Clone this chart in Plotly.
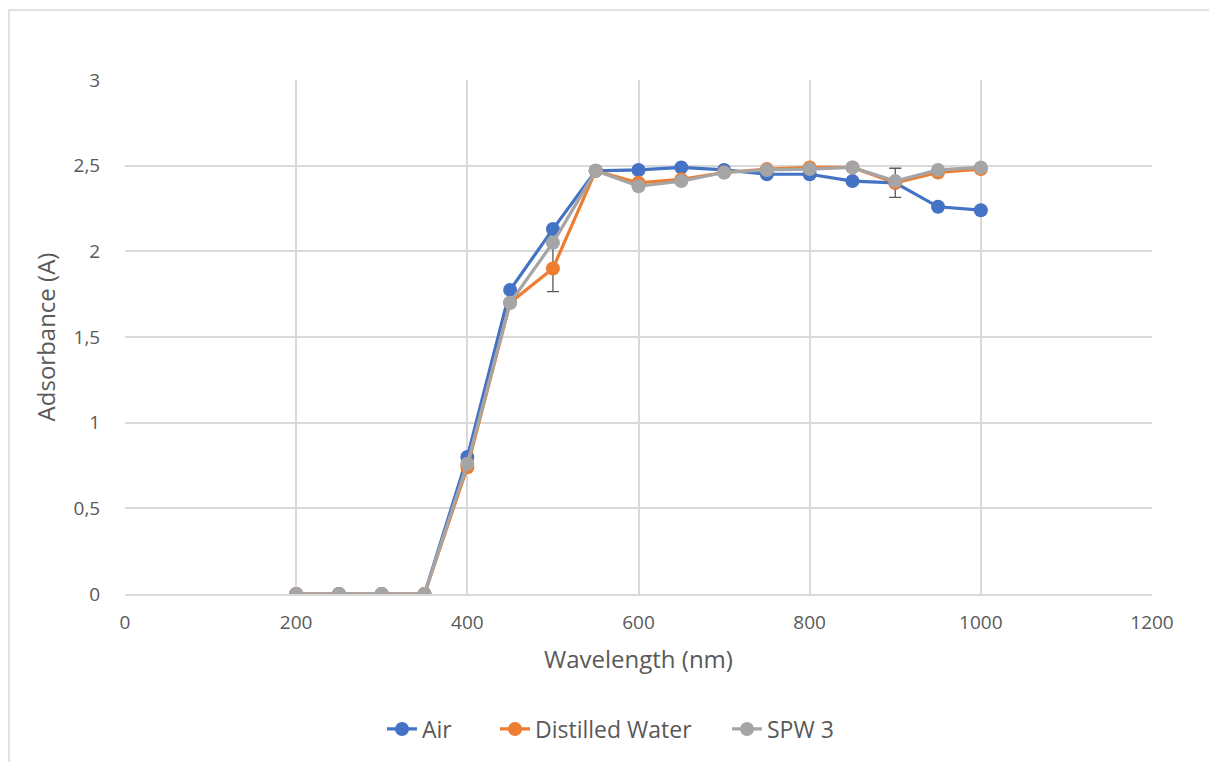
import plotly.graph_objects as go

wavelength = [200, 250, 300, 350, 400, 450, 500, 550, 600, 650, 700, 750, 800, 850, 900, 950, 1000]
air = [0, 0, 0, 0, 0.80, 1.775, 2.13, 2.47, 2.475, 2.49, 2.475, 2.45, 2.45, 2.41, 2.40, 2.26, 2.24]
distilled_water = [0, 0, 0, 0, 0.74, 1.70, 1.90, 2.47, 2.40, 2.42, 2.46, 2.48, 2.49, 2.49, 2.40, 2.46, 2.48]
spw3 = [0, 0, 0, 0, 0.76, 1.70, 2.05, 2.47, 2.38, 2.41, 2.46, 2.475, 2.48, 2.49, 2.41, 2.475, 2.49]
dw_error = [None, None, None, None, None, None, 0.135, None, None, None, None, None, None, None, 0.085, None, None]

series = [
    ("Air", air, "#4472C4", None, "legend", 390),
    ("Distilled Water", distilled_water, "#ED7D31", dw_error, "legend2", 503),
    ("SPW 3", spw3, "#A5A5A5", None, "legend3", 735),
]

OFF = 8  # default page body margin
W, H = 1217 - OFF, 762 - OFF
L, R, T, B = 125, 1152, 80, 594  # target page pixels of plot area

pw = R - L
ph = B - T
def px(x):
    return (x - L) / pw
def py(y):
    return (B - y) / ph

fig = go.Figure()
legends = {}
for name, vals, color, err, leg, lx in series:
    kw = {}
    if err is not None:
        kw["error_y"] = dict(type="data", array=err, visible=True, color="#595959", thickness=1.3, width=6)
    fig.add_trace(go.Scatter(
        x=wavelength, y=vals, name=name, mode="lines+markers",
        line=dict(color=color, width=3.2),
        marker=dict(color=color, size=14),
        legend=leg,
        **kw
    ))
    legends[leg] = dict(orientation="h", x=px(lx - 8), xanchor="left", y=py(729), yanchor="middle",
                        font=dict(size=23, color="#595959", family="Open Sans, Noto Sans, sans-serif"),
                        bgcolor="rgba(0,0,0,0)")

fig.add_shape(type="rect", xref="paper", yref="paper",
              x0=px(9), x1=px(1240), y0=py(785), y1=py(10),
              line=dict(color="#d9d9d9", width=1.5), fillcolor="rgba(0,0,0,0)", layer="below")

font_family = "Open Sans, Noto Sans, sans-serif"
fig.update_layout(
    width=W, height=H,
    margin=dict(l=L - OFF, r=W + OFF - R, t=T - OFF, b=H + OFF - B, pad=0),
    paper_bgcolor="white", plot_bgcolor="white",
    separators=",.",
    font=dict(family=font_family, color="#595959", size=19),
    showlegend=True,
    xaxis=dict(range=[0, 1200], tickvals=[0, 200, 400, 600, 800, 1000, 1200],
               showgrid=True, gridcolor="#d9d9d9", gridwidth=1.5,
               zeroline=False, showline=True, linecolor="#d9d9d9", linewidth=1.5,
               ticks="outside", ticklen=10, tickcolor="rgba(0,0,0,0)",
               tickfont=dict(size=19, color="#595959"),
               title=dict(text="Wavelength (nm)", font=dict(size=24, color="#595959"), standoff=18)),
    yaxis=dict(range=[0, 3], tickvals=[0, 0.5, 1, 1.5, 2, 2.5, 3],
               showgrid=True, gridcolor="#d9d9d9", gridwidth=1.5,
               zeroline=False, showline=False,
               ticks="outside", ticklen=20, tickcolor="rgba(0,0,0,0)",
               tickfont=dict(size=19, color="#595959"),
               title=dict(text="Adsorbance (A)", font=dict(size=24, color="#595959"), standoff=11)),
    **legends,
)

fig.write_html("out.html")
